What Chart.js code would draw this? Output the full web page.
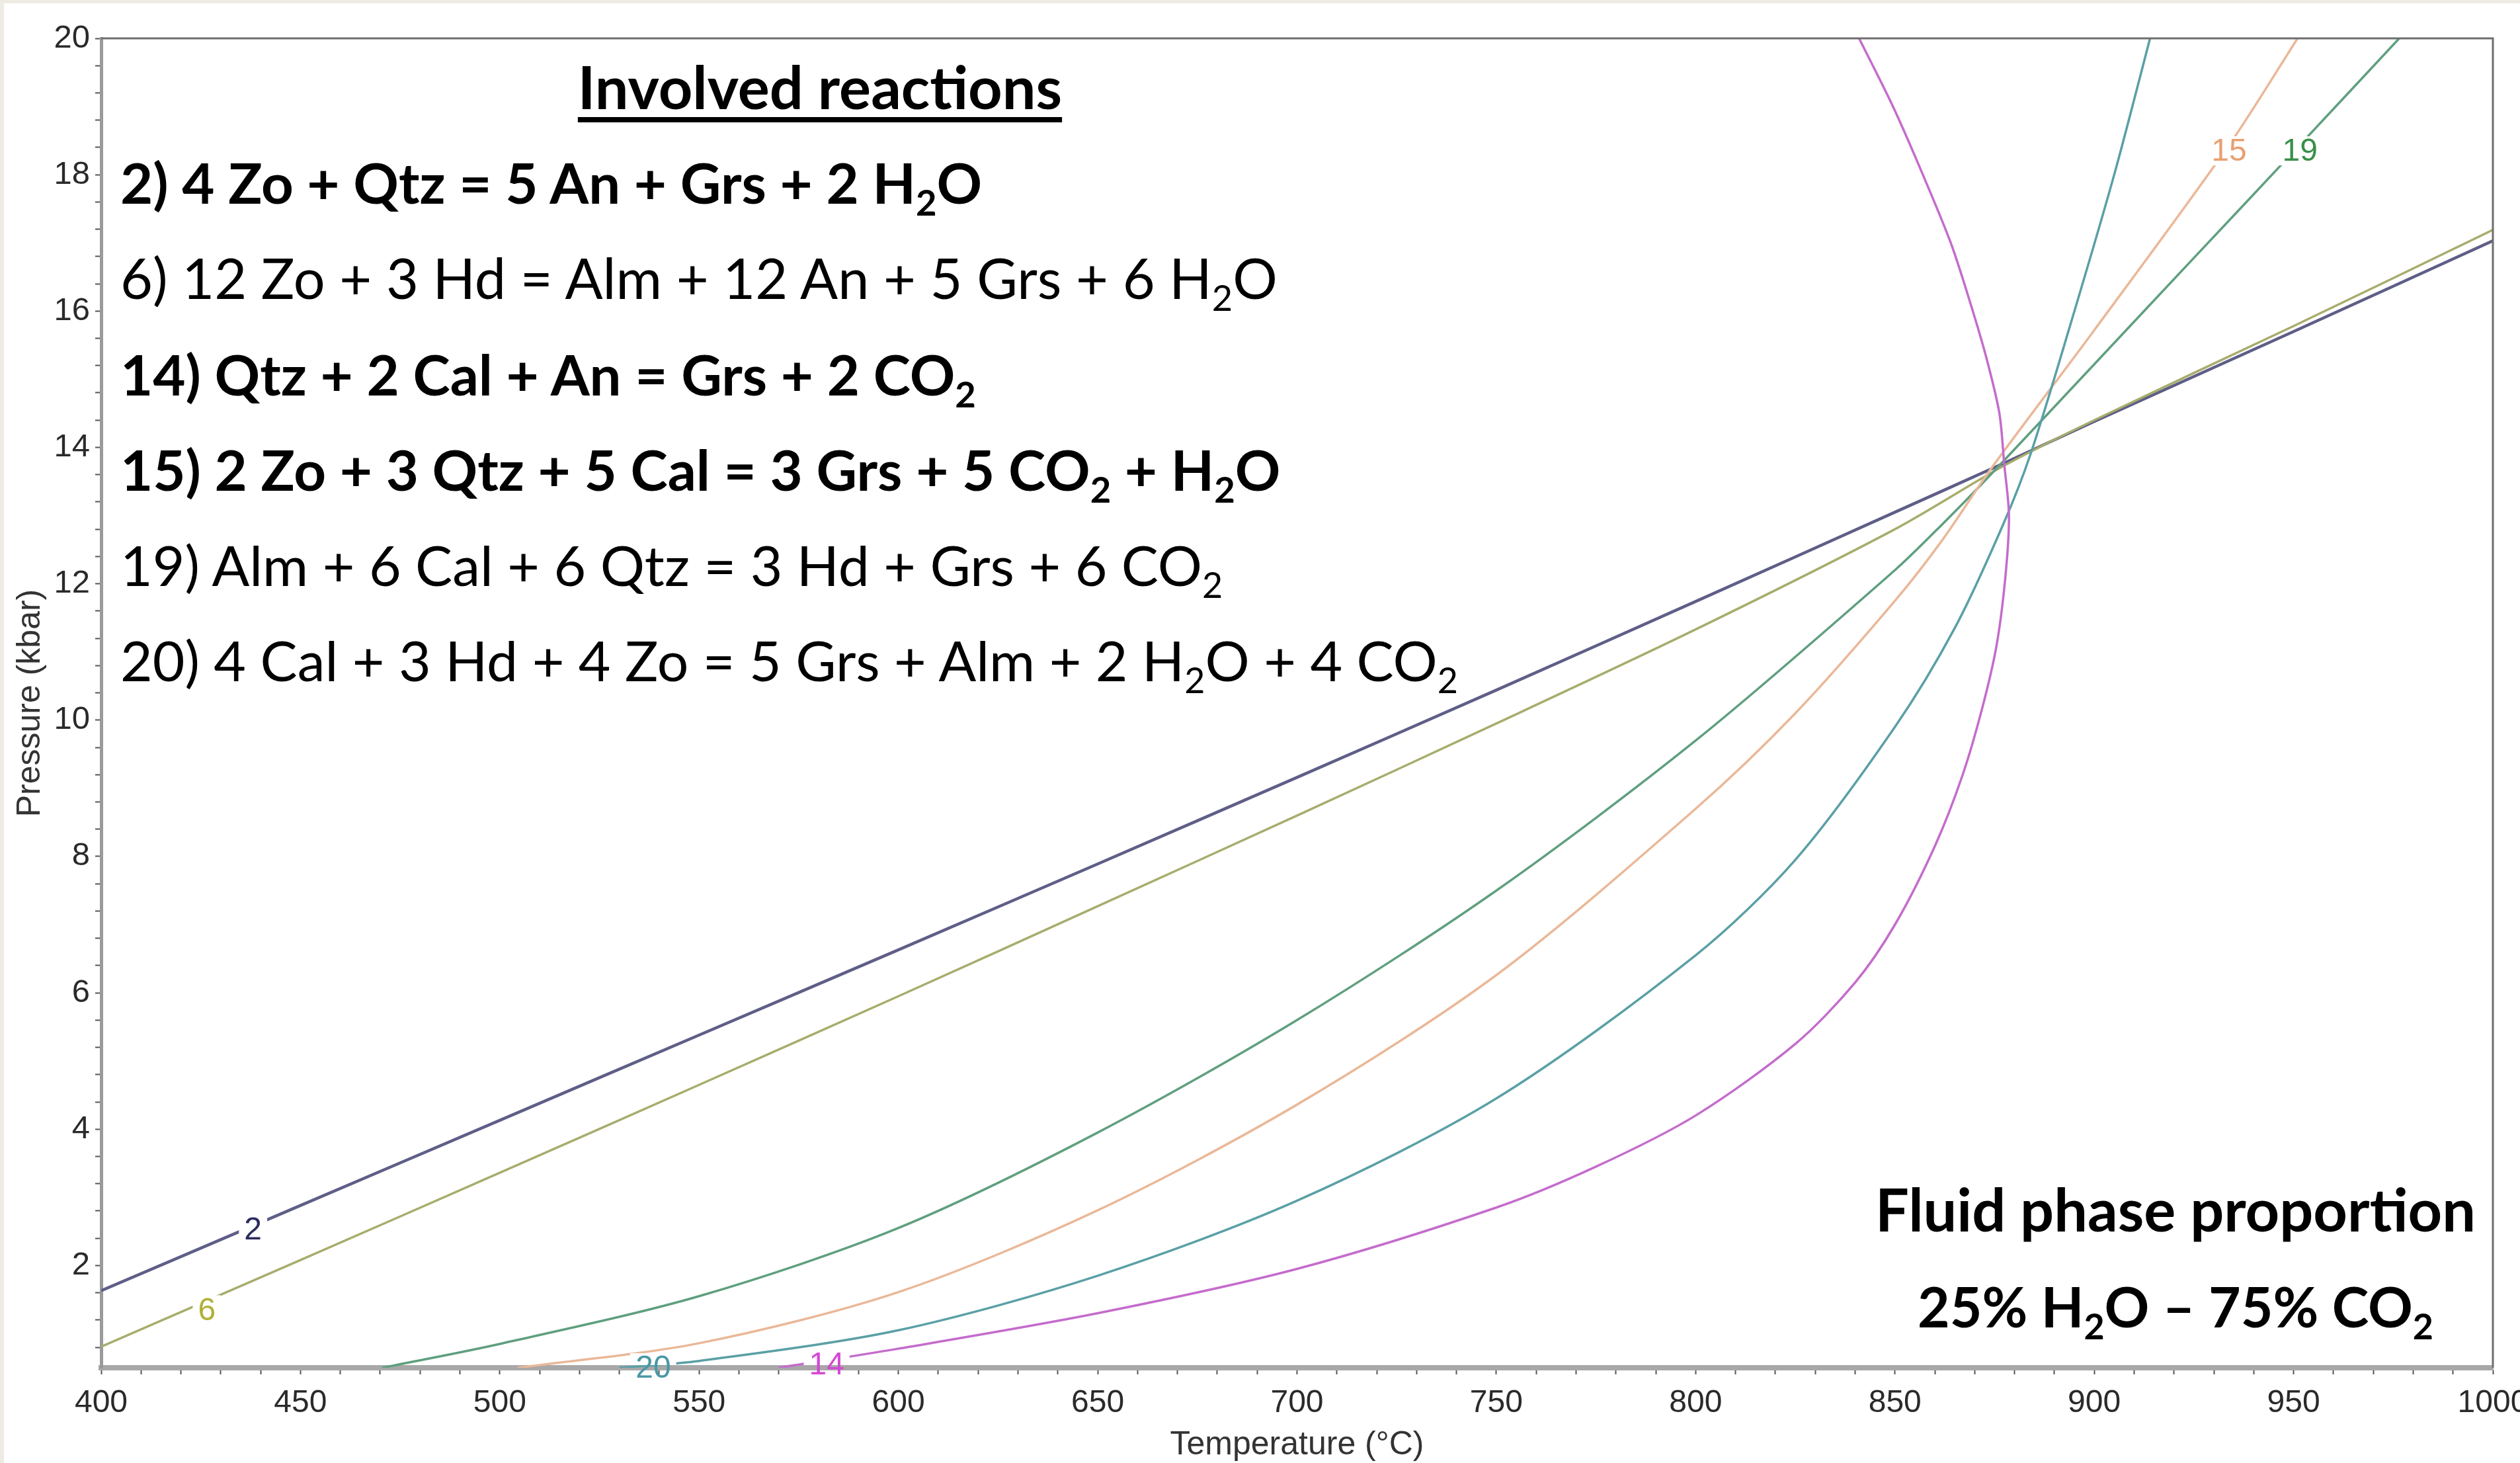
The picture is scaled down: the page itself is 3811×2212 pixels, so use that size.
<!DOCTYPE html>
<html>
<head>
<meta charset="utf-8">
<script src="https://cdn.jsdelivr.net/npm/chart.js@4.4.1/dist/chart.umd.min.js"></script>
<style>
html,body{margin:0;padding:0;background:#fff;}
#wrap{position:relative;width:3811px;height:2212px;background:#fff;overflow:hidden;}
#edge{position:absolute;left:0;top:0;width:3811px;height:2212px;border-left:6px solid #eeebe3;border-top:5px solid #eeebe3;box-sizing:border-box;}
canvas{position:absolute;left:0;top:0;}
.t{position:absolute;font-family:Lato,"Open Sans",sans-serif;line-height:1;color:#000;white-space:nowrap;}
.b{font-weight:bold;}
.c{text-align:center;width:1400px;}
.t sub{font-size:0.64em;vertical-align:baseline;position:relative;top:0.34em;line-height:0;}
.u{text-decoration:underline;text-decoration-thickness:8px;text-underline-offset:12px;}
</style>
</head>
<body>
<div id="wrap">
  <div id="edge"></div>
  <canvas id="chart" width="3811" height="2212"></canvas>
  <div class="t b c u" style="left:540px;top:85px;font-size:90px;">Involved reactions</div>
  <div class="t b" style="left:182px;top:233px;font-size:85px;">2) 4 Zo + Qtz = 5 An + Grs + 2 H<sub>2</sub>O</div>
  <div class="t" style="left:182px;top:378px;font-size:84.5px;">6) 12 Zo + 3 Hd = Alm + 12 An + 5 Grs + 6 H<sub>2</sub>O</div>
  <div class="t b" style="left:182px;top:523px;font-size:85px;">14) Qtz + 2 Cal + An = Grs + 2 CO<sub>2</sub></div>
  <div class="t b" style="left:182px;top:667px;font-size:85px;">15) 2 Zo + 3 Qtz + 5 Cal = 3 Grs + 5 CO<sub>2</sub> + H<sub>2</sub>O</div>
  <div class="t" style="left:182px;top:812px;font-size:84px;">19) Alm + 6 Cal + 6 Qtz = 3 Hd + Grs + 6 CO<sub>2</sub></div>
  <div class="t" style="left:182px;top:956px;font-size:84px;">20) 4 Cal + 3 Hd + 4 Zo = 5 Grs + Alm + 2 H<sub>2</sub>O + 4 CO<sub>2</sub></div>
  <div class="t b c" style="left:2590px;top:1782px;font-size:90px;">Fluid phase proportion</div>
  <div class="t b c" style="left:2590px;top:1933px;font-size:84px;">25% H<sub>2</sub>O – 75% CO<sub>2</sub></div>
</div>
<script>
// reaction curves, temperature (°C) and pressure (kbar)
const r2T = [400, 450, 500, 550, 600, 650, 700, 750, 800, 850, 877, 900, 950, 1000];
const r2P = [1.63, 2.88, 4.13, 5.38, 6.63, 7.89, 9.16, 10.44, 11.74, 13.05, 13.76, 14.38, 15.7, 17.03];

const r6T = [400, 450, 500, 550, 600, 650, 700, 750, 800, 850, 877, 900, 950, 1000];
const r6P = [0.81, 2.08, 3.36, 4.65, 5.95, 7.27, 8.6, 9.95, 11.33, 12.8, 13.72, 14.4, 15.78, 17.19];

const r14T = [570, 600, 650, 700, 750, 775, 800, 825, 840, 850, 860, 867, 872, 875.5, 877.7, 878.6, 877.4, 876.2, 873, 869, 864, 857, 849.5, 841];
const r14P = [0.5, 0.78, 1.3, 1.95, 2.85, 3.45, 4.2, 5.25, 6.15, 7.0, 8.15, 9.2, 10.2, 11.1, 12.1, 13.0, 13.76, 14.5, 15.3, 16.1, 17.0, 18.0, 19.0, 20.0];

const r15T = [504.5, 550, 600, 650, 700, 750, 800, 825, 850, 862, 874, 900, 934, 951];
const r15P = [0.5, 0.86, 1.61, 2.81, 4.36, 6.26, 8.7, 10.1, 11.75, 12.65, 13.68, 15.72, 18.45, 20.0];

const r19T = [470.5, 500, 550, 600, 650, 700, 750, 800, 850, 862, 874, 900, 925, 951, 976.5];
const r19P = [0.5, 0.85, 1.55, 2.55, 3.95, 5.6, 7.5, 9.7, 12.2, 12.88, 13.6, 15.22, 16.78, 18.4, 20.0];

const r20T = [530, 550, 600, 650, 700, 750, 800, 825, 850, 865, 877, 884, 894, 905, 914];
const r20P = [0.5, 0.6, 1.05, 1.85, 2.95, 4.45, 6.55, 7.95, 9.9, 11.35, 12.85, 13.9, 15.8, 18.0, 20.0];

// curve numbers written on the diagram
const labelText = ['2', '6', '14', '15', '19', '20'];
const labelT = [438.1, 426.5, 582, 933.8, 951.6, 538.5];
const labelP = [2.53, 1.35, 0.55, 18.35, 18.35, 0.5];

// axis tick labels
const xTickLabels = [400, 450, 500, 550, 600, 650, 700, 750, 800, 850, 900, 950, 1000];
const yTickLabels = [2, 4, 6, 8, 10, 12, 14, 16, 18, 20];

const labelColor = ['#2b2b5e', '#b0b038', '#d548d5', '#e8a070', '#3a8f4a', '#4a98a5'];
const axisFont = '"Liberation Sans", Arial, sans-serif';

function pts(T, P){
    return T.map((t, i) => ({x: t, y: P[i]}));
}

function curve(T, P, color, width){
    return {
        data: pts(T, P),
        showLine: true,
        borderColor: color,
        borderWidth: width,
        pointRadius: 0,
        tension: 0.3,
        fill: false
    };
}

const curveLabels = {
    id: 'curveLabels',
    afterDatasetsDraw(chart){
        const {ctx, chartArea: a, scales: {x, y}} = chart;
        // top and right frame
        ctx.save();
        ctx.strokeStyle = '#6e6e6e';
        ctx.lineWidth = 3;
        ctx.beginPath();
        ctx.moveTo(a.left, a.top);
        ctx.lineTo(a.right, a.top);
        ctx.lineTo(a.right, a.bottom);
        ctx.stroke();

        ctx.font = '48px ' + axisFont;
        ctx.textAlign = 'center';
        ctx.textBaseline = 'middle';
        labelText.forEach((txt, i) => {
            const px = x.getPixelForValue(labelT[i]);
            const py = y.getPixelForValue(labelP[i]);
            const w = ctx.measureText(txt).width + 16;
            ctx.save();
            ctx.beginPath();
            ctx.rect(a.left + 3, a.top + 2, a.right - a.left - 5, a.bottom - a.top - 6);
            ctx.clip();
            ctx.fillStyle = '#fff';
            ctx.fillRect(px - w / 2, py - 22, w, 44);
            ctx.restore();
            ctx.fillStyle = labelColor[i];
            ctx.fillText(txt, px, py + 2);
        });
        ctx.restore();
    }
};

new Chart(document.getElementById('chart').getContext('2d'), {
    type: 'scatter',
    data: {
        datasets: [
            curve(r14T, r14P, '#c46ccc', 3.5),
            curve(r20T, r20P, '#5aa0a5', 3.5),
            curve(r15T, r15P, '#eab898', 3.5),
            curve(r19T, r19P, '#5f9f7f', 3.5),
            curve(r6T, r6P, '#a8ac6c', 3.5),
            curve(r2T, r2P, '#5e5e88', 4.5)
        ]
    },
    options: {
        responsive: false,
        devicePixelRatio: 1,
        animation: false,
        layout: {padding: {top: 58, right: 41, left: 0, bottom: 0}},
        plugins: {legend: {display: false}, tooltip: {enabled: false}},
        scales: {
            x: {
                type: 'linear',
                min: 400,
                max: 1000,
                afterFit: s => { s.height = 144; s.paddingLeft = 0; s.paddingRight = 0; },
                ticks: {
                    stepSize: 10,
                    autoSkip: false,
                    maxRotation: 0,
                    padding: 15,
                    color: '#2a2a2a',
                    font: {family: axisFont, size: 48},
                    callback: v => xTickLabels.includes(v) ? String(v) : ''
                },
                grid: {drawOnChartArea: false, tickLength: 10, tickColor: '#555', tickWidth: 2},
                border: {color: '#a8a8a8', width: 8},
                title: {
                    display: true,
                    text: 'Temperature (°C)',
                    color: '#333',
                    font: {family: axisFont, size: 50, lineHeight: 1},
                    padding: {top: 0, bottom: 2}
                }
            },
            y: {
                type: 'linear',
                min: 0.5,
                max: 20,
                afterFit: s => { s.width = 153; s.paddingTop = 0; s.paddingBottom = 0; },
                ticks: {
                    stepSize: 0.4,
                    includeBounds: false,
                    autoSkip: false,
                    padding: 8,
                    color: '#2a2a2a',
                    font: {family: axisFont, size: 49},
                    callback: v => yTickLabels.some(t => Math.abs(t - v) < 1e-6) ? String(Math.round(v)) : ''
                },
                grid: {drawOnChartArea: false, tickLength: 9, tickColor: '#555', tickWidth: 2},
                border: {color: '#9a9a9a', width: 5},
                title: {
                    display: true,
                    text: 'Pressure (kbar)',
                    color: '#333',
                    font: {family: axisFont, size: 50},
                    padding: {top: 16, bottom: 0}
                }
            }
        }
    },
    plugins: [curveLabels]
});
</script>
</body>
</html>
